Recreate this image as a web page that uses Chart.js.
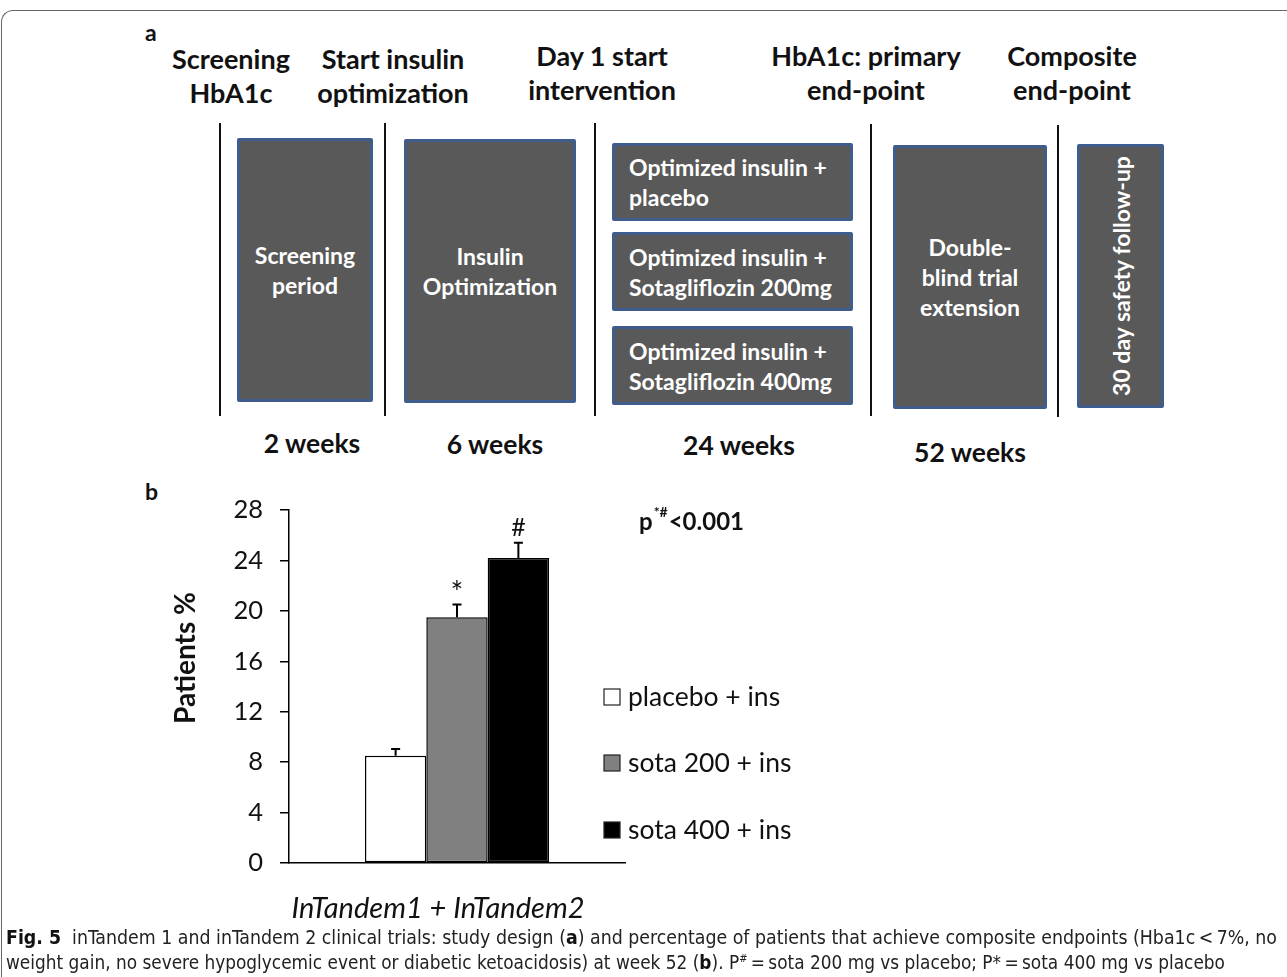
<!DOCTYPE html>
<html>
<head>
<meta charset="utf-8">
<script src="https://cdn.jsdelivr.net/npm/chart.js@4.4.1/dist/chart.umd.min.js"></script>
<style>
  html, body { margin: 0; padding: 0; background: #fff; }
  body { width: 1287px; height: 977px; position: relative; overflow: hidden; font-family: Lato, "Open Sans", sans-serif; color: #111; }
  .frame { position: absolute; left: 1px; top: 10px; width: 1400px; height: 1000px; border-top: 1.5px solid #666; border-left: 1.5px solid #666; border-top-left-radius: 12px; }
  .abs { position: absolute; }
  .letter { font-weight: 700; font-size: 23px; }
  .head { font-weight: 700; font-size: 27px; line-height: 34px; text-align: center; transform: translateX(-50%); white-space: nowrap; }
  .vline { position: absolute; width: 2px; background: #111; }
  .box { position: absolute; box-sizing: border-box; background: #595959; border: 3px solid #3f5d8c; border-radius: 2px;
         color: #fff; font-weight: 700; font-size: 23px; line-height: 30px; display: flex; align-items: center; justify-content: center; text-align: center; }
  .box.left { justify-content: flex-start; text-align: left; padding-left: 14px; }
  .box .rot { transform: rotate(-90deg); white-space: nowrap; }
  .week { font-weight: 700; font-size: 26.5px; transform: translateX(-50%); white-space: nowrap; }
  .cap { position: absolute; left: 6px; white-space: nowrap; font-family: "Liberation Sans Narrow", "DejaVu Sans Condensed", sans-serif; font-size: 19px; color: #222; transform-origin: 0 0; }
  .cap b { color: #111; }
  #chartWrap { position: absolute; left: 140px; top: 470px; width: 700px; height: 460px; }
</style>
</head>
<body>
<div class="frame"></div>

<div class="abs letter" style="left:145px; top:18px;">a</div>
<div class="abs head" style="left:231px; top:42px;">Screening<br>HbA1c</div>
<div class="abs head" style="left:393px; top:42px;">Start insulin<br>optimization</div>
<div class="abs head" style="left:602px; top:39px;">Day 1 start<br>intervention</div>
<div class="abs head" style="left:866px; top:39px;">HbA1c: primary<br>end-point</div>
<div class="abs head" style="left:1072px; top:39px;">Composite<br>end-point</div>

<div class="vline" style="left:219px; top:123px; height:293px;"></div>
<div class="vline" style="left:384px; top:123px; height:293px;"></div>
<div class="vline" style="left:594px; top:123px; height:293px;"></div>
<div class="vline" style="left:870px; top:124px; height:292px;"></div>
<div class="vline" style="left:1057px; top:125px; height:292px;"></div>

<div class="box" style="left:237px; top:138px; width:136px; height:264px;">Screening<br>period</div>
<div class="box" style="left:404px; top:139px; width:172px; height:264px;">Insulin<br>Optimization</div>
<div class="box left" style="left:612px; top:143px; width:241px; height:78px;">Optimized insulin +<br>placebo</div>
<div class="box left" style="left:612px; top:232px; width:241px; height:79px;">Optimized insulin +<br>Sotagliflozin 200mg</div>
<div class="box left" style="left:612px; top:326px; width:241px; height:79px;">Optimized insulin +<br>Sotagliflozin 400mg</div>
<div class="box" style="left:893px; top:145px; width:154px; height:264px;">Double-<br>blind trial<br>extension</div>
<div class="box" style="left:1077px; top:144px; width:87px; height:264px;"><span class="rot">30 day safety follow-up</span></div>

<div class="abs week" style="left:312px; top:427px;">2 weeks</div>
<div class="abs week" style="left:495px; top:428px;">6 weeks</div>
<div class="abs week" style="left:739px; top:429px;">24 weeks</div>
<div class="abs week" style="left:970px; top:436px;">52 weeks</div>

<div class="abs letter" style="left:145px; top:477px;">b</div>

<div id="chartWrap"><canvas id="fig5b"></canvas></div>

<div class="cap" id="cap1" data-w="1271" style="top:926px;"><b>Fig. 5</b>&nbsp; inTandem 1 and inTandem 2 clinical trials: study design (<b>a</b>) and percentage of patients that achieve composite endpoints (Hba1c&thinsp;&lt;&thinsp;7%, no</div>
<div class="cap" id="cap2" data-w="1219" style="top:951px;">weight gain, no severe hypoglycemic event or diabetic ketoacidosis) at week 52 (<b>b</b>). P<sup style="font-size:11px">#</sup>&thinsp;=&thinsp;sota 200 mg vs placebo; P*&thinsp;=&thinsp;sota 400 mg vs placebo</div>

<script>
  // squeeze caption lines to the width they take in the figure
  document.querySelectorAll(".cap").forEach((el) => {
    const w = el.getBoundingClientRect().width;
    el.style.transform = `scaleX(${Number(el.dataset.w) / w})`;
  });

  const categories = ["InTandem1 + InTandem2"];
  const seriesNames = ["placebo + ins", "sota 200 + ins", "sota 400 + ins"];
  const placeboValues = [8.5];
  const sota200Values = [19.5];
  const sota400Values = [24.2];
  const placeboErrors = [0.55];
  const sota200Errors = [1.0];
  const sota400Errors = [1.2];
  const seriesMarks = ["", "*", "#"];
  const yTicks = [0, 4, 8, 12, 16, 20, 24, 28];
  const yTitle = "Patients %";

  const fills = ["#ffffff", "#808080", "#000000"];

  const extras = {
    id: "extras",
    afterDatasetsDraw(chart) {
      const { ctx } = chart;
      const yScale = chart.scales.y;
      ctx.save();
      ctx.strokeStyle = "#000";
      ctx.lineWidth = 2;
      chart.data.datasets.forEach((ds, i) => {
        const bar = chart.getDatasetMeta(i).data[0];
        const top = yScale.getPixelForValue(ds.data[0] + ds.errors[0]);
        ctx.beginPath();
        ctx.moveTo(bar.x, bar.y);
        ctx.lineTo(bar.x, top);
        ctx.moveTo(bar.x - 4.5, top);
        ctx.lineTo(bar.x + 4.5, top);
        ctx.stroke();
        if (ds.mark === "*") {
          ctx.fillStyle = "#111";
          ctx.font = "30px Lato";
          ctx.textAlign = "center";
          ctx.textBaseline = "alphabetic";
          ctx.fillText(ds.mark, bar.x, top - 2);
        } else if (ds.mark) {
          ctx.fillStyle = "#111";
          ctx.font = "25px Lato";
          ctx.textAlign = "center";
          ctx.textBaseline = "alphabetic";
          ctx.fillText(ds.mark, bar.x, top - 7);
        }
      });

      // y title
      ctx.save();
      ctx.translate(46, 188);
      ctx.rotate(-Math.PI / 2);
      ctx.font = "bold 28px Lato";
      ctx.fillStyle = "#111";
      ctx.textAlign = "center";
      ctx.textBaseline = "middle";
      ctx.fillText(yTitle, 0, 0);
      ctx.restore();

      // p value
      ctx.fillStyle = "#111";
      ctx.textAlign = "left";
      ctx.textBaseline = "alphabetic";
      ctx.font = "bold 24px Lato";
      let x = 499;
      ctx.fillText("p", x, 60);
      x += ctx.measureText("p").width + 1;
      ctx.font = "bold 14px Lato";
      ctx.fillText("*#", x, 47);
      x += ctx.measureText("*#").width + 1;
      ctx.font = "bold 24px Lato";
      ctx.fillText("<0.001", x, 60);

      // legend
      const rows = [227, 293, 360];
      chart.data.datasets.forEach((ds, i) => {
        ctx.fillStyle = ds.backgroundColor;
        ctx.fillRect(464, rows[i] - 8, 16, 16);
        ctx.strokeStyle = "#222";
        ctx.lineWidth = 1.2;
        ctx.strokeRect(464, rows[i] - 8, 16, 16);
        ctx.fillStyle = "#111";
        ctx.font = "26.5px Lato";
        ctx.textBaseline = "middle";
        ctx.fillText(ds.label, 488, rows[i]);
      });
      ctx.restore();
    },
  };

  const seriesData = [placeboValues, sota200Values, sota400Values];
  const seriesErr = [placeboErrors, sota200Errors, sota400Errors];

  new Chart(document.getElementById("fig5b"), {
    type: "bar",
    data: {
      labels: categories,
      datasets: seriesNames.map((name, i) => ({
        label: name,
        data: seriesData[i],
        errors: seriesErr[i],
        mark: seriesMarks[i],
        backgroundColor: fills[i],
        borderColor: "#000",
        borderWidth: 1.5,
        borderSkipped: false,
        barPercentage: 1,
        categoryPercentage: 0.548,
      })),
    },
    options: {
      responsive: true,
      maintainAspectRatio: false,
      animation: false,
      layout: { padding: { left: 0, right: 215, top: 40, bottom: 0 } },
      plugins: { legend: { display: false }, tooltip: { enabled: false } },
      scales: {
        x: {
          grid: { display: false, drawTicks: false },
          border: { display: true, color: "#000", width: 1.5 },
          ticks: { color: "#111", font: { family: "Lato", size: 29, style: "italic" }, padding: 28, labelOffset: -19 },
          afterFit(scale) { scale.height = 67; },
        },
        y: {
          min: 0,
          max: 28,
          afterBuildTicks(scale) { scale.ticks = yTicks.map((v) => ({ value: v })); },
          grid: { drawOnChartArea: false, drawTicks: true, tickLength: 9, color: "#000", lineWidth: 1.5 },
          border: { display: true, color: "#000", width: 1.5 },
          ticks: { color: "#111", font: { family: "Lato", size: 25.5 }, padding: 17 },
          afterFit(scale) { scale.width = 149; },
        },
      },
    },
    plugins: [extras],
  });
</script>
</body>
</html>
